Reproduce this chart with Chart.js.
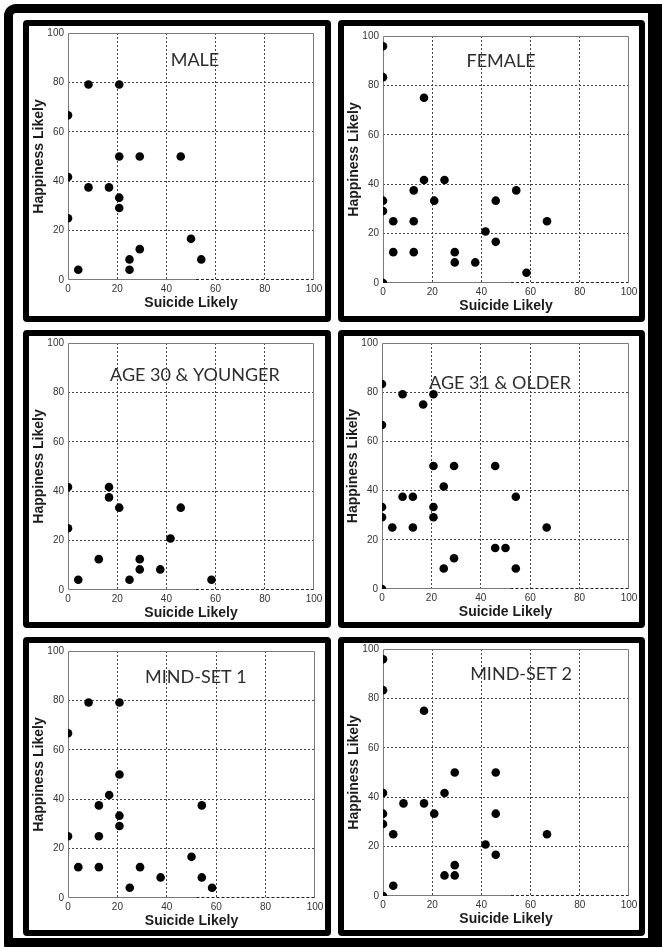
<!DOCTYPE html>
<html>
<head>
<meta charset="utf-8">
<script src="https://cdn.jsdelivr.net/npm/chart.js@4.4.1/dist/chart.umd.min.js"></script>
<style>
html, body { margin: 0; padding: 0; background: #fff; }
body { width: 662px; height: 947px; position: relative; overflow: hidden; }
.frame {
    position: absolute; left: 4px; top: 4px; width: 670px; height: 952px;
    box-sizing: border-box; border: solid #000;
    border-width: 9px 26px 18px 9px; border-radius: 12px;
}
.panel {
    position: absolute; box-sizing: border-box; background: #fff;
    border: 6px solid #000; border-radius: 4px;
}
.panel canvas { position: absolute; left: 0; top: 0; }
</style>
</head>
<body>
<div class="frame"></div>

<script>
// values (both axes 0-100)

const axisTicks = [0, 20, 40, 60, 80, 100];

const maleSuicide   = [8.33, 20.83, 0, 20.83, 29.17, 45.83, 0, 8.33, 16.67, 20.83, 20.83, 0, 50, 29.17, 25, 54.17, 4.17, 25];
const maleHappiness = [79.17, 79.17, 66.67, 50, 50, 50, 41.67, 37.5, 37.5, 33.33, 29.17, 25, 16.67, 12.5, 8.33, 8.33, 4.17, 4.17];

const femaleSuicide   = [0, 0, 16.67, 16.67, 25, 12.5, 54.17, 0, 20.83, 45.83, 0, 4.17, 12.5, 66.67, 41.67, 45.83, 4.17, 12.5, 29.17, 29.17, 37.5, 58.33, 0];
const femaleHappiness = [95.83, 83.33, 75, 41.67, 41.67, 37.5, 37.5, 33.33, 33.33, 33.33, 29.17, 25, 25, 25, 20.83, 16.67, 12.5, 12.5, 12.5, 8.33, 8.33, 4.17, 0];

const youngSuicide   = [0, 16.67, 16.67, 20.83, 45.83, 0, 41.67, 12.5, 29.17, 29.17, 37.5, 4.17, 25, 58.33];
const youngHappiness = [41.67, 41.67, 37.5, 33.33, 33.33, 25, 20.83, 12.5, 12.5, 8.33, 8.33, 4.17, 4.17, 4.17];

const olderSuicide   = [0, 8.33, 20.83, 16.67, 0, 20.83, 29.17, 45.83, 25, 8.33, 12.5, 54.17, 0, 20.83, 0, 20.83, 4.17, 12.5, 66.67, 45.83, 50, 29.17, 25, 54.17, 0];
const olderHappiness = [83.33, 79.17, 79.17, 75, 66.67, 50, 50, 50, 41.67, 37.5, 37.5, 37.5, 33.33, 33.33, 29.17, 29.17, 25, 25, 25, 16.67, 16.67, 12.5, 8.33, 8.33, 0];

const mind1Suicide   = [8.33, 20.83, 0, 20.83, 16.67, 12.5, 54.17, 20.83, 20.83, 0, 12.5, 50, 4.17, 12.5, 29.17, 37.5, 54.17, 25, 58.33];
const mind1Happiness = [79.17, 79.17, 66.67, 50, 41.67, 37.5, 37.5, 33.33, 29.17, 25, 25, 16.67, 12.5, 12.5, 12.5, 8.33, 8.33, 4.17, 4.17];

const mind2Suicide   = [0, 0, 16.67, 29.17, 45.83, 0, 25, 8.33, 16.67, 0, 20.83, 45.83, 0, 4.17, 66.67, 41.67, 45.83, 29.17, 25, 29.17, 4.17, 0];
const mind2Happiness = [95.83, 83.33, 75, 50, 50, 41.67, 41.67, 37.5, 37.5, 33.33, 33.33, 33.33, 29.17, 25, 25, 20.83, 16.67, 12.5, 8.33, 8.33, 4.17, 0];

const panelTitles = ["MALE", "FEMALE", "AGE 30 & YOUNGER", "AGE 31 & OLDER", "MIND-SET 1", "MIND-SET 2"];


// page layout: panel box and plot area in page pixels, title anchor in data units
const panels = [
    { xs: maleSuicide,   ys: maleHappiness,   box: [23, 20, 331, 322],  plot: [68, 33, 314, 280],   at: [51.6, 89] },
    { xs: femaleSuicide, ys: femaleHappiness, box: [338, 20, 645, 322], plot: [383, 36, 629, 283],  at: [48, 90] },
    { xs: youngSuicide,  ys: youngHappiness,  box: [23, 330, 331, 628], plot: [68, 343, 314, 590],  at: [51.6, 87] },
    { xs: olderSuicide,  ys: olderHappiness,  box: [338, 330, 645, 628], plot: [382, 343, 629, 589], at: [47.8, 83.7] },
    { xs: mind1Suicide,  ys: mind1Happiness,  box: [23, 637, 331, 936], plot: [68, 651, 315, 898],  at: [51.8, 89.5] },
    { xs: mind2Suicide,  ys: mind2Happiness,  box: [338, 637, 645, 936], plot: [383, 649, 629, 896], at: [56.1, 90] }
];

const BORDER = 6;
const Y_AXIS_W = 38;
const X_AXIS_H = 32;

Chart.defaults.font.family = '"Liberation Sans", Arial, sans-serif';


// plot frame (solid grey, bottom edge turns dotted past x=52) and the panel caption
const panelDecor = {
    id: "panelDecor",
    beforeDatasetsDraw(chart, args, opts) {
        const { ctx, chartArea: a, scales: { x, y } } = chart;
        const l = Math.round(a.left) + 0.5, r = Math.round(a.right) - 0.5;
        const t = Math.round(a.top) + 0.5, b = Math.round(a.bottom) - 0.5;
        const split = x.getPixelForValue(52);

        ctx.save();
        ctx.lineWidth = 1;
        ctx.strokeStyle = "#7a7a7a";
        ctx.beginPath();
        ctx.moveTo(split, b);
        ctx.lineTo(l, b);
        ctx.lineTo(l, t);
        ctx.lineTo(r, t);
        ctx.lineTo(r, b);
        ctx.stroke();

        ctx.strokeStyle = "#222";
        ctx.setLineDash([3, 2]);
        ctx.beginPath();
        ctx.moveTo(split, b);
        ctx.lineTo(r, b);
        ctx.stroke();
        ctx.setLineDash([]);

        ctx.font = "18px Lato";
        ctx.fillStyle = "#2e2e2e";
        ctx.textAlign = "center";
        ctx.textBaseline = "middle";
        ctx.fillText(opts.text, x.getPixelForValue(opts.at[0]), y.getPixelForValue(opts.at[1]));
        ctx.restore();
    }
};

const gridColor = (c) => (c.tick.value === 0 || c.tick.value === 100) ? "rgba(0,0,0,0)" : "#444";

// force the axis boxes to a fixed size so the plot area lands where the reference has it
const fitAxis = (prop, size) => (s) => {
    s[prop] = size;
    s.paddingTop = s.paddingBottom = s.paddingLeft = s.paddingRight = 0;
};

panels.forEach((p, i) => {
    const [bl, bt, br, bb] = p.box;
    const [pl, pt, pr, pb] = p.plot;

    const div = document.createElement("div");
    div.className = "panel";
    div.style.left = bl + "px";
    div.style.top = bt + "px";
    div.style.width = (br - bl) + "px";
    div.style.height = (bb - bt) + "px";

    const innerL = bl + BORDER, innerT = bt + BORDER;
    const innerR = br - BORDER, innerB = bb - BORDER;

    const canvas = document.createElement("canvas");
    canvas.width = innerR - innerL;
    canvas.height = innerB - innerT;
    canvas.style.width = canvas.width + "px";
    canvas.style.height = canvas.height + "px";
    div.appendChild(canvas);
    document.body.appendChild(div);

    new Chart(canvas, {
        type: "scatter",
        data: {
            datasets: [{
                data: p.xs.map((v, k) => ({ x: v, y: p.ys[k] })),
                backgroundColor: "#000",
                borderWidth: 0,
                pointRadius: 4.3
            }]
        },
        options: {
            responsive: false,
            animation: false,
            layout: {
                padding: {
                    left: pl - innerL - Y_AXIS_W,
                    top: pt - innerT,
                    right: innerR - pr,
                    bottom: Math.max(0, innerB - pb - X_AXIS_H)
                }
            },
            plugins: {
                legend: { display: false },
                tooltip: { enabled: false },
                panelDecor: { text: panelTitles[i], at: p.at }
            },
            scales: {
                x: {
                    type: "linear",
                    min: 0,
                    max: 100,
                    afterBuildTicks: (s) => { s.ticks = axisTicks.map(v => ({ value: v })); },
                    afterFit: fitAxis("height", X_AXIS_H),
                    ticks: { font: { size: 10 }, color: "#333", padding: 3, maxRotation: 0 },
                    grid: { drawTicks: false, color: gridColor, lineWidth: 1 },
                    border: { display: false, dash: [2, 2] },
                    title: {
                        display: true,
                        text: "Suicide Likely",
                        color: "#1c1c1c",
                        font: { size: 14, weight: "bold" },
                        padding: { top: 0, bottom: 0 }
                    }
                },
                y: {
                    type: "linear",
                    min: 0,
                    max: 100,
                    afterBuildTicks: (s) => { s.ticks = axisTicks.map(v => ({ value: v })); },
                    afterFit: fitAxis("width", Y_AXIS_W),
                    ticks: { font: { size: 10 }, color: "#333", padding: 4 },
                    grid: { drawTicks: false, color: gridColor, lineWidth: 1 },
                    border: { display: false, dash: [2, 2] },
                    title: {
                        display: true,
                        text: "Happiness Likely",
                        color: "#1c1c1c",
                        font: { size: 14, weight: "bold" },
                        padding: { top: 1, bottom: 0 }
                    }
                }
            }
        },
        plugins: [panelDecor]
    });
});
</script>
</body>
</html>
